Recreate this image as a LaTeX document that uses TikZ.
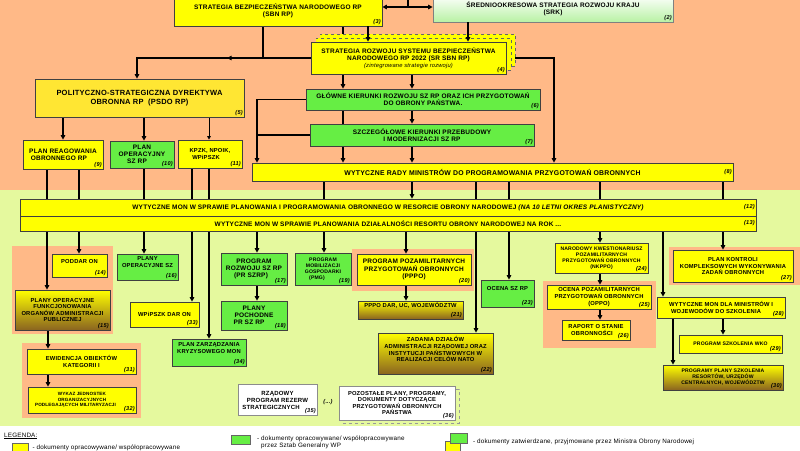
\documentclass[tikz,border=0pt]{standalone}
\usepackage{fontspec}
\setmainfont{Liberation Sans}
\newfontfamily\boxfont{Liberation Sans}[LetterSpace=3]
\usepackage{tikz}
\usetikzlibrary{positioning,arrows.meta,decorations.markings}

\definecolor{SalmonBg}{HTML}{FFB987}
\definecolor{LimeBg}{HTML}{E5F99E}
\definecolor{DocYellow}{HTML}{FFFF00}
\definecolor{DocGold}{HTML}{FFE633}
\definecolor{DocGreen}{HTML}{66EE44}
\definecolor{DocBrown}{HTML}{8A6420}
\definecolor{SrkGreen}{HTML}{B8F2A4}

\newcommand{\fA}{\boxfont\bfseries\fontsize{6.5}{7.2}\selectfont}
\newcommand{\fB}{\boxfont\bfseries\fontsize{5.8}{6.6}\selectfont}
\newcommand{\fC}{\boxfont\bfseries\fontsize{5.1}{6}\selectfont}
\newcommand{\fN}{\boxfont\bfseries\itshape\fontsize{5.6}{6}\selectfont}
\newcommand{\fL}{\boxfont\fontsize{6.3}{7}\selectfont}

\pgfdeclarelayer{bg}
\pgfdeclarelayer{edges}
\pgfsetlayers{bg,edges,main}

\begin{document}
\begin{tikzpicture}[x=1pt,y=-1pt,
    box/.style={draw=black!75,line width=.7pt,align=center,
                inner sep=1pt,font=\fA},
    yel/.style={box,fill=DocYellow},
    grn/.style={box,fill=DocGreen},
    brn/.style={box,top color=DocYellow,bottom color=DocBrown},
    wht/.style={box,draw=black!45,fill=white},
    shad/.style={draw=black!60,dashed,line width=.5pt,fill=DocYellow},
    halo/.style={fill=SalmonBg},
    nr/.style={font=\fN,inner sep=1.5pt,anchor=south east},
    ar/.style={-{Triangle[length=4.5pt,width=4.5pt]},line width=1.5pt},
    thinar/.style={-{Triangle[length=3.5pt,width=3.5pt]},line width=.8pt},
    ln/.style={line width=1.5pt},
    midleft/.style={postaction={decorate},
      decoration={markings,mark=at position .43 with
        {\arrow{Triangle[length=4.5pt,width=4.5pt]}}}},
    swatch/.style={draw=black!60,line width=.5pt,inner sep=0pt,
                   anchor=north west},
    legtxt/.style={font=\fL,align=left,inner sep=0pt}]
  \useasboundingbox (0,0) rectangle (800,450);

  % background bands and halos
  \begin{pgfonlayer}{bg}
    \fill[SalmonBg] (0,0) rectangle (800,190);
    \fill[LimeBg] (0,190) rectangle (800,426);
    \fill[white] (0,426) rectangle (800,450);
    \fill[halo] (12,246) rectangle (113,334);
    \fill[halo] (22,343) rectangle (141,418);
    \fill[halo] (352,249) rectangle (474,291);
    \fill[halo] (543,281) rectangle (656,348);
    \fill[halo] (669,247) rectangle (800,285);
  \end{pgfonlayer}

  % strategies
  \coordinate (b1) at (408,-8);
  \node[yel,minimum width=208,minimum height=31,
        label={[nr]south east:(3)}] (b3) at (278,10.5)
        {STRATEGIA BEZPIECZEŃSTWA NARODOWEGO RP\\(SBN RP)};
  \node[box,draw=black!50,top color=white,bottom color=SrkGreen,
        minimum width=240,minimum height=27,
        label={[nr]south east:(2)}] (b2) at (553,8.5)
        {ŚREDNIOOKRESOWA STRATEGIA ROZWOJU KRAJU\\(SRK)};
  \node[shad,minimum width=195,minimum height=32] (b4s2) at (417.5,50) {};
  \node[shad,minimum width=195,minimum height=32] (b4s1) at (413.5,54) {};
  \node[yel,minimum width=195,minimum height=32,
        label={[nr]south east:(4)}] (b4) at (408.5,58)
        {STRATEGIA ROZWOJU SYSTEMU BEZPIECZEŃSTWA\\
         NARODOWEGO RP 2022 (SR SBN RP)\\
         {\fB\mdseries\itshape (zintegrowane strategie rozwoju)}};
  \node[box,fill=DocGold,font=\boxfont\bfseries\fontsize{7.5}{9.5}\selectfont,
        minimum width=209,minimum height=38,
        label={[nr]south east:(5)}] (b5) at (139.5,98)
        {POLITYCZNO-STRATEGICZNA DYREKTYWA\\OBRONNA RP\ \ (PSDO RP)};
  \node[grn,minimum width=234,minimum height=21,
        label={[nr]south east:(6)}] (b6) at (423,99.5)
        {GŁÓWNE KIERUNKI ROZWOJU SZ RP ORAZ ICH PRZYGOTOWAŃ\\
         DO OBRONY PAŃSTWA.};
  \node[grn,minimum width=224,minimum height=22,
        label={[nr]south east:(7)}] (b7) at (422,135)
        {SZCZEGÓŁOWE KIERUNKI PRZEBUDOWY\\I MODERNIZACJI SZ RP};
  \node[yel,minimum width=80,minimum height=29,
        label={[nr]south east:(9)}] (b9) at (63,154.5)
        {PLAN REAGOWANIA\\OBRONNEGO RP\hspace*{8pt}};
  \node[grn,minimum width=64,minimum height=27,
        label={[nr]south east:(10)}] (b10) at (142,154.5)
        {PLAN\\OPERACYJNY\\SZ RP\hspace*{10pt}};
  \node[yel,font=\fB,minimum width=64,minimum height=28,
        label={[nr]south east:(11)}] (b11) at (210,154)
        {KPZK, NPOIK,\\WPiPSZK\hspace*{8pt}};
  \node[yel,font=\boxfont\bfseries\fontsize{6.9}{7.5}\selectfont,
        minimum width=481,minimum height=18,
        label={[nr,anchor=east]east:(8)}] (b8) at (492.5,172)
        {WYTYCZNE RADY MINISTRÓW DO PROGRAMOWANIA PRZYGOTOWAŃ OBRONNYCH};

  % MON guidelines
  \node[yel,minimum width=736,minimum height=17,
        label={[nr,anchor=east]east:(12)}] (b12) at (388,207.5)
        {WYTYCZNE MON W SPRAWIE PLANOWANIA I PROGRAMOWANIA OBRONNEGO
         W RESORCIE OBRONY NARODOWEJ {\itshape (NA 10 LETNI OKRES PLANISTYCZNY)}};
  \node[yel,minimum width=736,minimum height=15,
        label={[nr,anchor=east]east:(13)}] (b13) at (388,223.5)
        {WYTYCZNE MON W SPRAWIE PLANOWANIA DZIAŁALNOŚCI RESORTU OBRONY
         NARODOWEJ NA ROK ...};

  % lower documents
  \node[yel,font=\fB,minimum width=55,minimum height=23,
        label={[nr]south east:(14)}] (b14) at (79.5,265.5) {PODDAR ON\\[2pt]};
  \node[brn,font=\fB,minimum width=95,minimum height=40,
        label={[nr]south east:(15)}] (b15) at (62.5,310)
        {PLANY OPERACYJNE\\FUNKCJONOWANIA\\ORGANÓW ADMINISTRACJI\\PUBLICZNEJ};
  \node[grn,font=\fB,minimum width=61,minimum height=26,
        label={[nr]south east:(16)}] (b16) at (147.5,267)
        {PLANY\\OPERACYJNE SZ\\[4pt]};
  \node[grn,minimum width=66,minimum height=32,
        label={[nr]south east:(17)}] (b17) at (254,269)
        {PROGRAM\\ROZWOJU SZ RP\\(PR SZRP)\hspace*{6pt}};
  \node[grn,minimum width=66,minimum height=29,
        label={[nr]south east:(18)}] (b18) at (254,315.5)
        {PLANY\\POCHODNE\\PR SZ RP\hspace*{10pt}};
  \node[grn,font=\fC,minimum width=56,minimum height=32,
        label={[nr]south east:(19)}] (b19) at (323,269)
        {PROGRAM\\MOBILIZACJI\\GOSPODARKI\\(PMG)\hspace*{12pt}};
  \node[yel,minimum width=114,minimum height=31,
        label={[nr]south east:(20)}] (b20) at (414,269.5)
        {PROGRAM POZAMILITARNYCH\\PRZYGOTOWAŃ OBRONNYCH\\(PPPO)};
  \node[brn,font=\fB,minimum width=105,minimum height=18,
        label={[nr]south east:(21)}] (b21) at (410.5,310)
        {PPPO DAR, UC, WOJEWÓDZTW\\[3pt]};
  \node[brn,font=\fB,minimum width=115,minimum height=41,
        label={[nr]south east:(22)}] (b22) at (435.5,353.5)
        {ZADANIA DZIAŁÓW\\ADMINISTRACJI RZĄDOWEJ ORAZ\\
         INSTYTUCJI PAŃSTWOWYCH W\\REALIZACJI CELÓW NATO\\[2pt]};
  \node[grn,font=\fB,minimum width=53,minimum height=27,
        label={[nr]south east:(23)}] (b23) at (507.5,293.5) {OCENA SZ RP\\[4pt]};
  \node[yel,font=\fC,minimum width=93,minimum height=30,
        label={[nr]south east:(24)}] (b24) at (601.5,258)
        {NARODOWY KWESTIONARIUSZ\\POZAMILITARNYCH\\
         PRZYGOTOWAŃ OBRONNYCH\\(NKPPO)};
  \node[yel,font=\fB,minimum width=104,minimum height=24,
        label={[nr]south east:(25)}] (b25) at (599,297)
        {OCENA POZAMILITARNYCH\\PRZYGOTOWAŃ OBRONNYCH\\(OPPO)};
  \node[yel,font=\fB,minimum width=68,minimum height=20,
        label={[nr]south east:(26)}] (b26) at (596,330)
        {RAPORT O STANIE\\OBRONNOŚCI\hspace*{8pt}};
  \node[yel,font=\fB,minimum width=120,minimum height=32,
        label={[nr]south east:(27)}] (b27) at (733,266)
        {PLAN KONTROLI\\KOMPLEKSOWYCH WYKONYWANIA\\ZADAŃ OBRONNYCH};
  \node[yel,font=\fB,minimum width=128,minimum height=21,
        label={[nr]south east:(28)}] (b28) at (721,307.5)
        {WYTYCZNE MON DLA MINISTRÓW I\\WOJEWODÓW DO SZKOLENIA\hspace*{10pt}};
  \node[yel,font=\fC,minimum width=103,minimum height=18,
        label={[nr]south east:(29)}] (b29) at (730.5,344)
        {PROGRAM SZKOLENIA WKO};
  \node[brn,font=\fC,minimum width=120,minimum height=25,
        label={[nr]south east:(30)}] (b30) at (723,377.5)
        {PROGRAMY PLANY SZKOLENIA\\RESORTÓW, URZĘDÓW\\CENTRALNYCH, WOJEWÓDZTW};
  \node[yel,font=\fB,minimum width=109,minimum height=25,
        label={[nr]south east:(31)}] (b31) at (81.5,361.5)
        {EWIDENCJA OBIEKTÓW\\KATEGORII I};
  \node[yel,font=\boxfont\bfseries\fontsize{4.6}{5.8}\selectfont,
        minimum width=108,minimum height=26,
        label={[nr]south east:(32)}] (b32) at (82,400)
        {WYKAZ JEDNOSTEK\\ORGANIZACYJNYCH\\PODLEGAJĄCYCH MILITARYZACJI\hspace*{13pt}};
  \node[yel,font=\fB,minimum width=69,minimum height=25,
        label={[nr]south east:(33)}] (b33) at (164.5,314.5) {WPiPSZK DAR ON};
  \node[grn,font=\fB,minimum width=74,minimum height=27,
        label={[nr]south east:(34)}] (b34) at (209,352.5)
        {PLAN ZARZĄDZANIA\\KRYZYSOWEGO MON\\[3pt]};
  \node[wht,font=\boxfont\bfseries\fontsize{6}{7}\selectfont,
        minimum width=79,minimum height=31,
        label={[nr]south east:(35)}] (b35) at (277.5,400)
        {RZĄDOWY\\PROGRAM REZERW\\STRATEGICZNYCH\hspace*{13pt}};
  \node[font=\fN] (etc) at (328,402) {(...)};
  \node[draw=black!40,dashed,line width=.5pt,minimum width=116,
        minimum height=34] (b36s) at (401,406) {};
  \node[wht,font=\fB,minimum width=116,minimum height=34,
        label={[nr]south east:(36)}] (b36) at (397,403)
        {POZOSTAŁE PLANY, PROGRAMY,\\DOKUMENTY DOTYCZĄCE\\
         PRZYGOTOWAŃ OBRONNYCH\\PAŃSTWA};

  % arrows onto SR SBN RP over its shadows
  \draw[ar] (368,0 |- b3.south) -- (368,0 |- b4.north);
  \draw[ar] (468,0 |- b2.south) -- (468,0 |- b4.north);

  % connectors
  \begin{pgfonlayer}{edges}
    \draw[ln] (b1) -- (b1 |- 0,7);
    \draw[{Triangle[length=4.5pt,width=4.5pt]}-{Triangle[length=4.5pt,width=4.5pt]},
          line width=1.5pt] (b3.east |- 0,7) -- (b2.west |- 0,7);
    \draw[ln] (263,0 |- b3.south) -- (263,0 |- b4.west);
    \draw[ar,midleft] (b4.west) -- (137,0 |- b4.west) -- (137,0 |- b5.north);
    \draw[ln] (343,0 |- b3.south) -- (343,0 |- b4.north);
    \draw[ar] (b4.east) -| (554,0 |- b8.north);
    \draw[ar] (343,0 |- b4.south) -- (343,0 |- b6.north);
    \draw[ar] (412,0 |- b4.south) -- (412,0 |- b6.north);
    \draw[ln] (343,0 |- b6.south) -- (343,0 |- b7.north);
    \draw[ar] (412,0 |- b6.south) -- (412,0 |- b7.north);
    \draw[ar] (343,0 |- b7.south) -- (343,0 |- b8.north);
    \draw[ar] (412,0 |- b7.south) -- (412,0 |- b8.north);
    \draw[ar] (b6.west) -| (257,0 |- b8.north);
    \draw[ln] (b7.west) -- (b7.west -| 257,0);
    % from PSDO
    \draw[ar] (63,0 |- b5.south) -- (63,0 |- b9.north);
    \draw[ar] (144,0 |- b5.south) -- (144,0 |- b10.north);
    \draw[thinar] (209,0 |- b5.south) -- (209,0 |- b11.north);
    % running behind the MON bars
    \draw[ar] (47,0 |- b9.south) -- (47,0 |- b15.north);
    \draw[ar] (79,0 |- b9.south) -- (79,0 |- b14.north);
    \draw[ar] (144,0 |- b10.south) -- (144,0 |- b16.north);
    \draw[ar] (192,0 |- b11.south) -- (192,0 |- b33.north);
    \draw[ar] (209,0 |- b11.south) -- (209,0 |- b34.north);
    \draw[ar] (324,0 |- b8.south) -- (324,0 |- b19.north);
    \draw[ar] (412,0 |- b8.south) -- (412,0 |- b12.north);
    \draw[ar] (476,0 |- b8.south) -- (476,0 |- b22.north);
    \draw[ar] (509,0 |- b8.south) -- (509,0 |- b23.north);
    \draw[ar] (600,0 |- b8.south) -- (600,0 |- b24.north);
    \draw[ar] (723,0 |- b8.south) -- (723,0 |- b27.north);
    % below the MON bars
    \draw[ar] (257,0 |- b13.south) -- (257,0 |- b17.north);
    \draw[ar] (406,0 |- b13.south) -- (406,0 |- b20.north);
    \draw[ar] (663,0 |- b13.south) -- (663,0 |- b28.north);
    \draw[ar] (257,0 |- b17.south) -- (257,0 |- b18.north);
    \draw[ar] (406,0 |- b20.south) -- (406,0 |- b21.north);
    \draw[ar] (600,0 |- b24.south) -- (600,0 |- b25.north);
    \draw[ar] (600,0 |- b25.south) -- (600,0 |- b26.north);
    \draw[ar] (723,0 |- b28.south) -- (723,0 |- b29.north);
    \draw[ar] (673,0 |- b28.south) -- (673,0 |- b30.north);
    \draw[ar] (48,0 |- b15.south) -- (48,0 |- b31.north);
    \draw[ar] (48,0 |- b31.south) -- (48,0 |- b32.north);
  \end{pgfonlayer}

  % legend
  \node[legtxt,anchor=west] (leg) at (4,436) {\underline{LEGENDA:}};
  \node[swatch,fill=DocYellow,minimum width=16,minimum height=9] (sw1) at (12,443) {};
  \node[legtxt,right=4pt of sw1] (lt1) {- dokumenty opracowywane/ współopracowywane};
  \node[swatch,fill=DocGreen,minimum width=19,minimum height=9] (sw2) at (231,435) {};
  \node[legtxt,anchor=north west] (lt2) at (257,436)
        {- dokumenty opracowywane/ współopracowywane\\\hspace*{4pt}przez Sztab Generalny WP};
  \node[swatch,fill=DocYellow,minimum width=15,minimum height=10] (sw3b) at (445,441) {};
  \node[swatch,fill=DocGreen,minimum width=17,minimum height=10] (sw3a) at (450,433) {};
  \node[legtxt,anchor=west] (lt3) at (473,442)
        {- dokumenty zatwierdzane, przyjmowane przez Ministra Obrony Narodowej};
\end{tikzpicture}
\end{document}
